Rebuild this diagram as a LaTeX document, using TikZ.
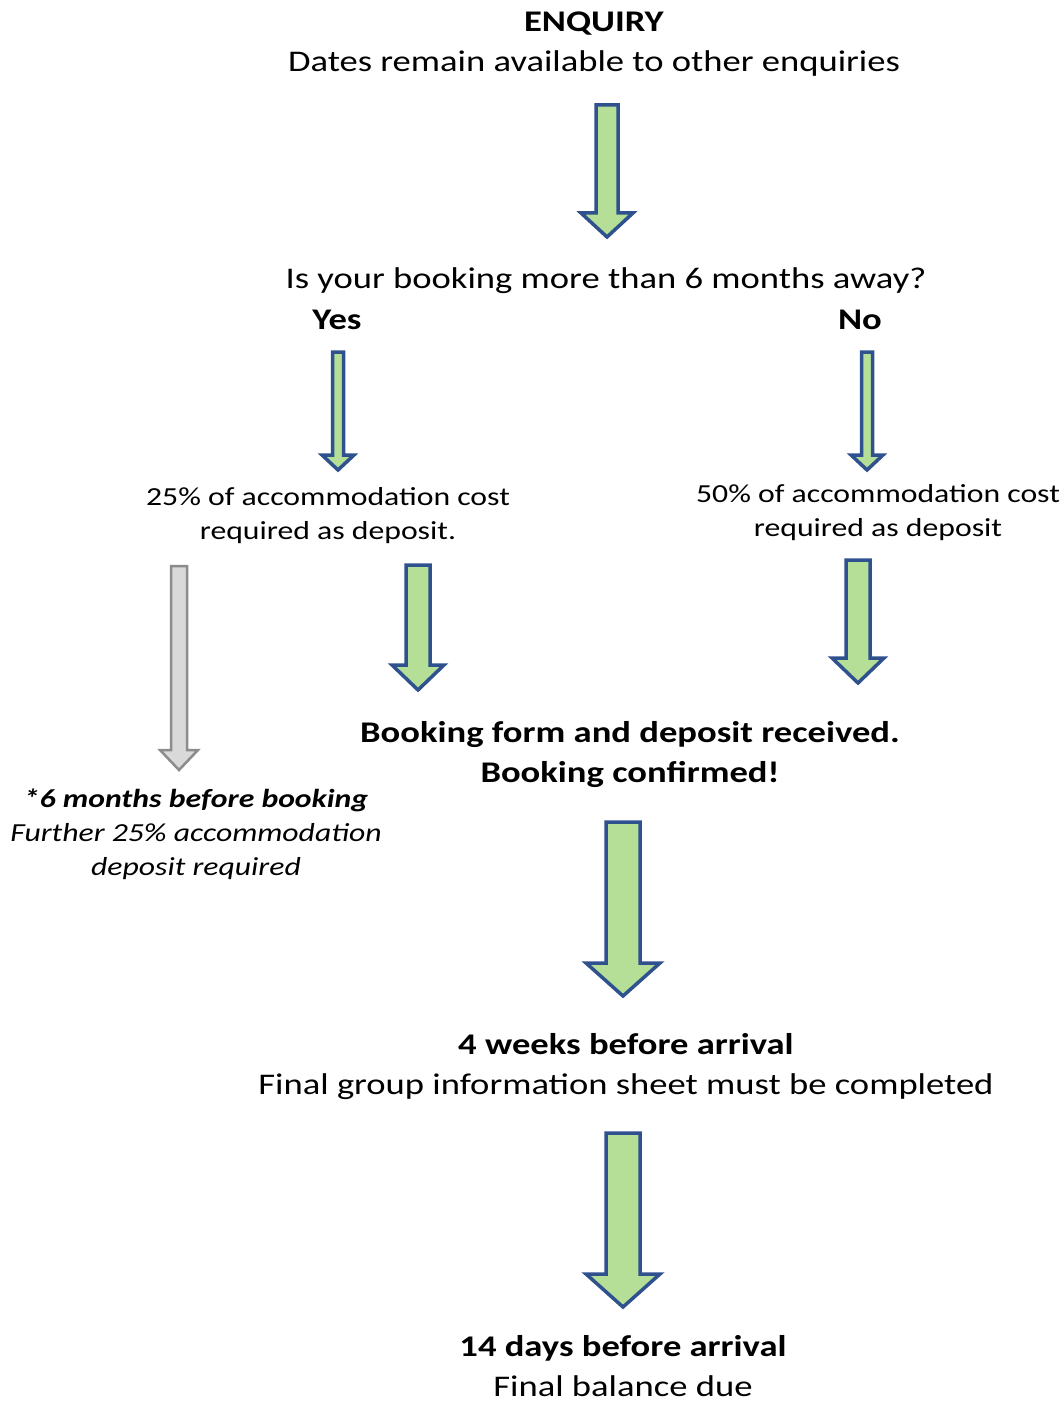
\documentclass[tikz,border=0pt]{standalone}
\usepackage{fontspec}
\setmainfont{Carlito}[FakeStretch=1.22]
\usetikzlibrary{calc}
\definecolor{arrowgreen}{RGB}{181,222,150}
\definecolor{arrowblue}{RGB}{47,82,143}
\definecolor{arrowgrey}{RGB}{217,217,217}
\definecolor{greyline}{RGB}{140,140,140}
\tikzset{
  txt/.style={font=\fontsize{30}{40}\selectfont, align=center, inner sep=0pt},
  bigtxt/.style={txt, font=\fontsize{30}{40}\selectfont\bfseries},
  deptxt/.style={txt, font=\fontsize{26}{34}\selectfont},
  smalltxt/.style={font=\fontsize{26}{34}\selectfont\itshape, align=center, inner sep=0pt},
  greenarrow/.style={fill=arrowgreen, draw=arrowblue, line width=3.5pt, line join=miter},
  greyarrow/.style={fill=arrowgrey, draw=greyline, line width=2.5pt, line join=miter}
}
% block arrow: [style]{top}{tip}{shaft half width}{head half width}{head length}
\newcommand{\blockarrow}[6][greenarrow]{%
  \draw[#1] let \p1=(#2), \p2=(#3) in
    (\x1-#4,\y1) -- (\x1+#4,\y1) -- (\x1+#4,\y2+#6) -- (\x1+#5,\y2+#6)
    -- (\x1,\y2) -- (\x1-#5,\y2+#6) -- (\x1-#4,\y2+#6) -- cycle;}

\begin{document}
\begin{tikzpicture}[x=1pt, y=-1pt]
\useasboundingbox (0,0) rectangle (1064,1404);

% Texts
\node[txt] (enquiry) at (594,44) {\textbf{ENQUIRY}\\Dates remain available to other enquiries};
\node[txt] (question) at (606,281) {Is your booking more than 6 months away?};
\node[bigtxt] (yes) at (337,320) {Yes};
\node[bigtxt] (no) at (860,320) {No};
\node[deptxt] (dep25) at (328,516) {25\% of accommodation cost\\required as deposit.};
\node[deptxt] (dep50) at (878,513) {50\% of accommodation cost\\required as deposit};
\node[bigtxt] (confirmed) at (630,755) {Booking form and deposit received.\\Booking confirmed!};
\node[smalltxt] (further) at (196,834) {\textbf{*6 months before booking}\\Further 25\% accommodation\\deposit required};
\node[txt] (weeks) at (626,1067) {\textbf{4 weeks before arrival}\\Final group information sheet must be completed};
\node[txt] (days) at (623,1366) {\textbf{14 days before arrival}\\Final balance due};

% Arrow ends
\coordinate (a1top) at (607,105);  \coordinate (a1tip) at (607,237);
\coordinate (yestop) at (338,352); \coordinate (yestip) at (338,470);
\coordinate (notop) at (867,352);  \coordinate (notip) at (867,470);
\coordinate (greytop) at (179,566); \coordinate (greytip) at (179,770);
\coordinate (lefttop) at (418,565); \coordinate (lefttip) at (418,690);
\coordinate (righttop) at (858,560); \coordinate (righttip) at (858,683);
\coordinate (a4top) at (623,822);  \coordinate (a4tip) at (623,996);
\coordinate (a5top) at (623,1133); \coordinate (a5tip) at (623,1307);

% Block arrows
\blockarrow{a1top}{a1tip}{11pt}{26pt}{24pt}
\blockarrow{yestop}{yestip}{5.5pt}{16pt}{15pt}
\blockarrow{notop}{notip}{5.5pt}{16pt}{15pt}
\blockarrow[greyarrow]{greytop}{greytip}{8pt}{19pt}{20pt}
\blockarrow{lefttop}{lefttip}{12pt}{26pt}{25pt}
\blockarrow{righttop}{righttip}{12pt}{26pt}{25pt}
\blockarrow{a4top}{a4tip}{17pt}{37pt}{33pt}
\blockarrow{a5top}{a5tip}{17pt}{37pt}{33pt}

\end{tikzpicture}
\end{document}
